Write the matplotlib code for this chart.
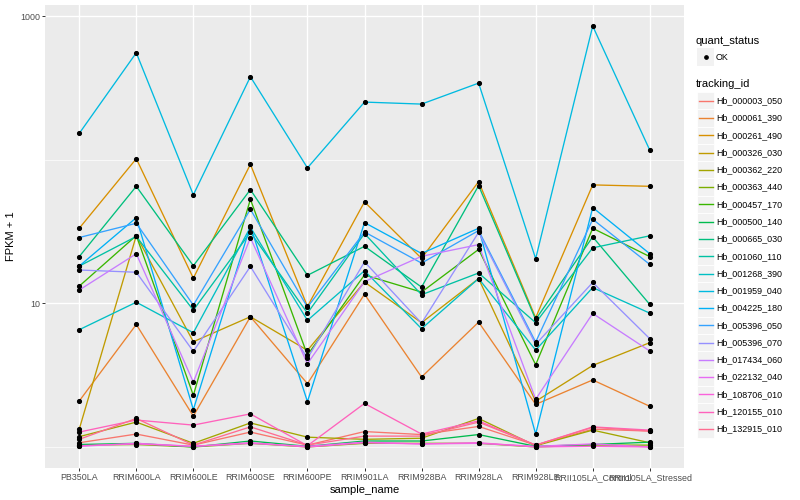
import matplotlib
matplotlib.use("Agg")
import matplotlib.pyplot as plt
from matplotlib.lines import Line2D
from matplotlib.patches import Rectangle
import numpy as np

samples = ["PB350LA", "RRIM600LA", "RRIM600LE", "RRIM600SE", "RRIM600PE", "RRIM901LA",
           "RRIM928BA", "RRIM928LA", "RRIM928LE", "RRII105LA_Control", "RRII105LA_Stressed"]

tracking_ids = ["Hb_000003_050", "Hb_000061_390", "Hb_000261_490", "Hb_000326_030",
                "Hb_000362_220", "Hb_000363_440", "Hb_000457_170", "Hb_000500_140",
                "Hb_000665_030", "Hb_001060_110", "Hb_001268_390", "Hb_001959_040",
                "Hb_004225_180", "Hb_005396_050", "Hb_005396_070", "Hb_017434_060",
                "Hb_022132_040", "Hb_108706_010", "Hb_120155_010", "Hb_132915_010"]

colors = ["#F8766D", "#EA8331", "#D89000", "#C09B00", "#A3A500", "#7CAE00", "#39B600",
          "#00BB4E", "#00BF7D", "#00C1A3", "#00BFC4", "#00BAE0", "#00B0F6", "#35A2FF",
          "#9590FF", "#C77CFF", "#E76BF3", "#FA62DB", "#FF62BC", "#FF6C91"]

# FPKM + 1 values per tracking id, in sample order
Hb_000003_050 = [1.07, 1.23, 1.03, 1.27, 1.03, 1.28, 1.22, 1.39, 1.03, 1.33, 1.29]
Hb_000061_390 = [2.09, 7.14, 1.64, 8.08, 2.76, 11.6, 3.07, 7.41, 1.98, 2.93, 1.92]
Hb_000261_490 = [33.4, 102, 15.0, 93.2, 9.53, 51.0, 20.6, 70.6, 7.95, 67.0, 65.5]
Hb_000326_030 = [1.33, 29.7, 5.41, 8.08, 4.71, 14.1, 7.34, 14.9, 2.08, 3.70, 5.33]
Hb_000362_220 = [1.18, 1.49, 1.06, 1.47, 1.17, 1.13, 1.15, 1.58, 1.02, 1.31, 1.07]
Hb_000363_440 = [1.03, 1.04, 1.00, 1.06, 1.00, 1.06, 1.06, 1.06, 1.00, 1.03, 1.03]
Hb_000457_170 = [13.2, 29.7, 2.29, 53.2, 4.37, 15.8, 12.0, 23.8, 3.74, 33.4, 21.2]
Hb_000500_140 = [1.04, 1.06, 1.00, 1.10, 1.01, 1.10, 1.10, 1.22, 1.01, 1.04, 1.08]
Hb_000665_030 = [21.2, 65.5, 18.3, 62.1, 15.7, 25.0, 13.0, 66.2, 7.74, 29.1, 9.84]
Hb_001060_110 = [18.2, 29.3, 8.98, 31.3, 8.56, 30.7, 11.5, 16.3, 7.34, 24.4, 29.6]
Hb_001268_390 = [6.56, 10.2, 6.25, 34.0, 7.62, 16.9, 6.67, 14.9, 4.73, 12.9, 8.56]
Hb_001959_040 = [153, 558, 57.1, 380, 88.0, 253, 245, 343, 20.5, 857, 117]
Hb_004225_180 = [18.2, 39.6, 1.82, 34.7, 2.07, 36.6, 22.3, 33.4, 1.23, 46.6, 22.2]
Hb_005396_050 = [28.8, 36.2, 9.73, 45.3, 9.42, 31.5, 19.1, 32.2, 5.38, 38.6, 18.7]
Hb_005396_070 = [17.1, 16.5, 4.63, 18.1, 4.14, 19.5, 7.29, 31.3, 5.19, 14.0, 5.68]
Hb_017434_060 = [12.4, 22.2, 2.83, 28.7, 3.80, 14.2, 21.3, 25.7, 2.15, 8.52, 4.66]
Hb_022132_040 = [1.01, 1.06, 1.01, 1.06, 1.01, 1.08, 1.05, 1.06, 1.01, 1.05, 1.00]
Hb_108706_010 = [1.02, 1.05, 1.01, 1.07, 1.00, 1.07, 1.05, 1.07, 1.00, 1.01, 1.00]
Hb_120155_010 = [1.27, 1.54, 1.42, 1.70, 1.02, 2.01, 1.23, 1.52, 1.03, 1.38, 1.31]
Hb_132915_010 = [1.13, 1.58, 1.03, 1.38, 1.03, 1.19, 1.19, 1.49, 1.03, 1.37, 1.29]

values = [Hb_000003_050, Hb_000061_390, Hb_000261_490, Hb_000326_030, Hb_000362_220,
          Hb_000363_440, Hb_000457_170, Hb_000500_140, Hb_000665_030, Hb_001060_110,
          Hb_001268_390, Hb_001959_040, Hb_004225_180, Hb_005396_050, Hb_005396_070,
          Hb_017434_060, Hb_022132_040, Hb_108706_010, Hb_120155_010, Hb_132915_010]

FONT = "Liberation Sans"
plt.rcParams["font.family"] = [FONT, "DejaVu Sans"]

W, H = 800, 500
fig = plt.figure(figsize=(W / 100, H / 100), dpi=100)
fig.patch.set_facecolor("white")

def fx(px):
    return px / W

def fy(py):
    return 1 - py / H

L_, R_, T_, B_ = 45, 684, 5, 468
ax = fig.add_axes([fx(L_), fy(B_), (R_ - L_) / W, (B_ - T_) / H])
ax.set_facecolor("#EBEBEB")
for s in ax.spines.values():
    s.set_visible(False)

x = np.arange(len(samples))
for vals, col in zip(values, colors):
    ax.plot(x, vals, color=col, lw=0.95, zorder=3, solid_capstyle="butt")
for vals in values:
    ax.plot(x, vals, linestyle="none", marker="o", ms=2.7, color="black", zorder=4)

ax.set_yscale("log")
allv = np.log10(np.concatenate([np.array(v) for v in values]))
lo, hi = allv.min(), allv.max()
pad = 0.05 * (hi - lo)
ax.set_ylim(10 ** (lo - pad), 10 ** (hi + pad))
ax.set_xlim(-0.6, len(samples) - 1 + 0.6)

ax.set_yticks([10, 1000])
ax.set_yticklabels(["10", "1000"])
ax.set_yticks([1, 100], minor=True)
ax.yaxis.set_minor_formatter(matplotlib.ticker.NullFormatter())
ax.set_xticks(x)
ax.set_xticklabels(samples)
ax.tick_params(axis="both", which="major", length=2.2, width=0.7, color="#333333",
               labelsize=6.4, labelcolor="#4D4D4D", pad=1.5)
ax.tick_params(axis="y", which="minor", length=0)
ax.grid(True, which="major", color="white", lw=1.0, zorder=0)
ax.grid(True, which="minor", axis="y", color="white", lw=0.5, zorder=0)
ax.set_axisbelow(True)

ax.set_xlabel("sample_name", fontsize=8, color="black", labelpad=2)
ax.set_ylabel("FPKM + 1", fontsize=8, color="black", labelpad=3)

# legends (ggplot-like, drawn manually)
fig.text(fx(696), fy(40.7), "quant_status", fontsize=8, va="center", ha="left")
fig.add_artist(Rectangle((fx(697), fy(65.5)), 17 / W, 17 / H, transform=fig.transFigure,
                         facecolor="#F2F2F2", edgecolor="none"))
fig.add_artist(Line2D([fx(705.5)], [fy(57)], marker="o", ms=2.4, color="black",
                      transform=fig.transFigure))
fig.text(fx(716), fy(57), "OK", fontsize=6.4, va="center", ha="left")

fig.text(fx(696), fy(84.3), "tracking_id", fontsize=8, va="center", ha="left")
y0, dy = 100.7, 17.28
for i, (tid, col) in enumerate(zip(tracking_ids, colors)):
    yc = y0 + i * dy
    fig.add_artist(Rectangle((fx(697), fy(yc + dy / 2)), 17 / W, dy / H,
                             transform=fig.transFigure, facecolor="#F2F2F2",
                             edgecolor="white", lw=0.6))
    fig.add_artist(Line2D([fx(698.5), fx(712.5)], [fy(yc), fy(yc)], color=col, lw=1.0,
                          transform=fig.transFigure))
    fig.text(fx(716), fy(yc), tid, fontsize=6.4, va="center", ha="left")

fig.savefig("out.png", dpi=100)
